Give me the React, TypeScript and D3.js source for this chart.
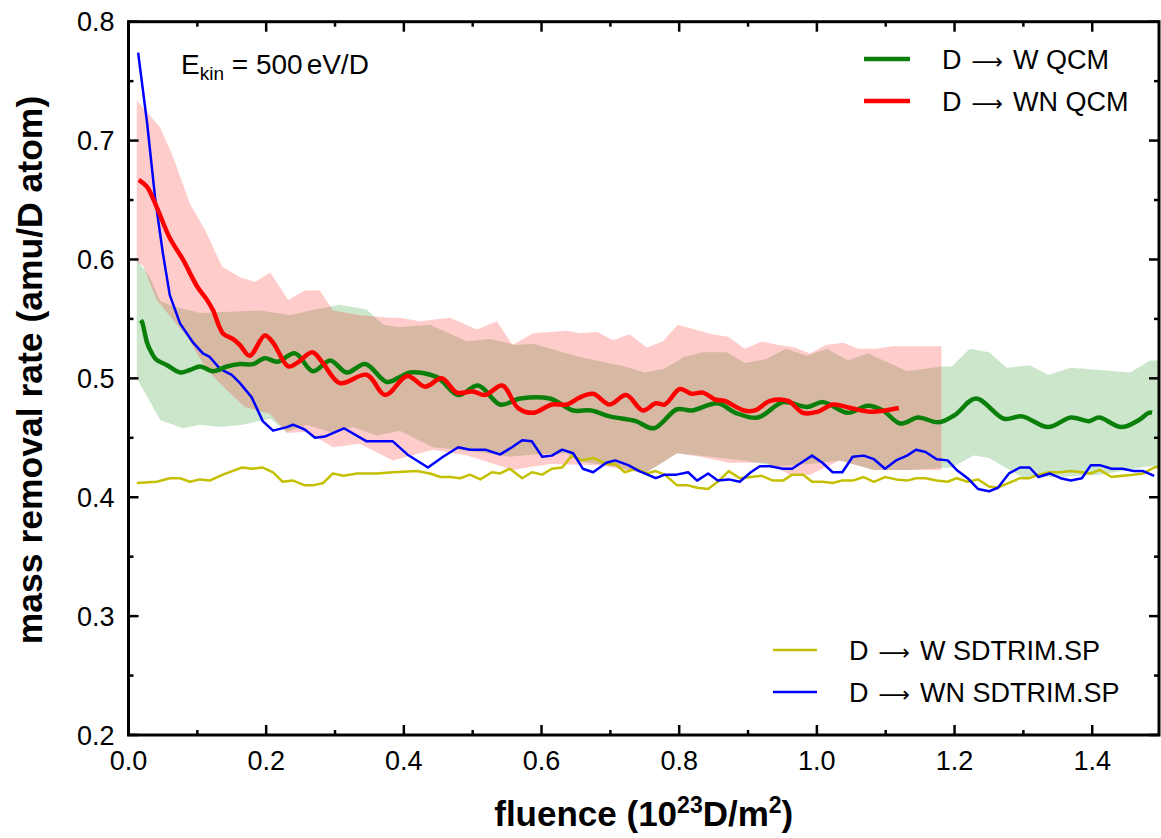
import React from "react";
import * as d3 from "d3";

// ---------- data (fluence in 1e23 D/m^2, mass removal rate in amu/D atom) ----------
const xTicksMajor = [0, 0.2, 0.4, 0.6, 0.8, 1.0, 1.2, 1.4];
const xTicksMinor = [0.1, 0.3, 0.5, 0.7, 0.9, 1.1, 1.3];
const yTicksMajor = [0.2, 0.3, 0.4, 0.5, 0.6, 0.7, 0.8];
const yTicksMinor = [0.25, 0.35, 0.45, 0.55, 0.65, 0.75];

const wQcm: [number, number][] = [
  [0.018, 0.549], [0.020, 0.547], [0.027, 0.530], [0.034, 0.521], [0.040, 0.516], [0.056, 0.511],
  [0.075, 0.505], [0.089, 0.507], [0.104, 0.510], [0.123, 0.506], [0.143, 0.510], [0.162, 0.512],
  [0.181, 0.512], [0.198, 0.517], [0.216, 0.514], [0.242, 0.521], [0.268, 0.506], [0.293, 0.515],
  [0.317, 0.505], [0.344, 0.512], [0.375, 0.497], [0.394, 0.501], [0.409, 0.505], [0.448, 0.501],
  [0.479, 0.486], [0.508, 0.494], [0.540, 0.478], [0.569, 0.483], [0.612, 0.483], [0.646, 0.473],
  [0.672, 0.473], [0.699, 0.468], [0.737, 0.464], [0.763, 0.458], [0.797, 0.474], [0.818, 0.473],
  [0.856, 0.479], [0.882, 0.471], [0.914, 0.467], [0.951, 0.480], [0.986, 0.476], [1.009, 0.480],
  [1.045, 0.471], [1.074, 0.477], [1.096, 0.473], [1.121, 0.462], [1.147, 0.467], [1.177, 0.463],
  [1.200, 0.469], [1.231, 0.483], [1.272, 0.466], [1.298, 0.468], [1.336, 0.459], [1.369, 0.467],
  [1.395, 0.464], [1.410, 0.467], [1.442, 0.459], [1.468, 0.465], [1.482, 0.471], [1.487, 0.471],
];

const wnQcm: [number, number][] = [
  [0.015, 0.667], [0.027, 0.661], [0.041, 0.644], [0.060, 0.618], [0.079, 0.600], [0.100, 0.577],
  [0.114, 0.566], [0.123, 0.557], [0.137, 0.538], [0.152, 0.533], [0.162, 0.528], [0.176, 0.519],
  [0.198, 0.536], [0.210, 0.530], [0.232, 0.510], [0.245, 0.513], [0.267, 0.522], [0.281, 0.514],
  [0.307, 0.496], [0.346, 0.503], [0.373, 0.486], [0.405, 0.502], [0.431, 0.493], [0.455, 0.500],
  [0.477, 0.488], [0.500, 0.489], [0.518, 0.486], [0.543, 0.494], [0.566, 0.475], [0.588, 0.471],
  [0.615, 0.478], [0.637, 0.478], [0.656, 0.484], [0.675, 0.487], [0.699, 0.478], [0.723, 0.486],
  [0.747, 0.473], [0.766, 0.479], [0.779, 0.478], [0.801, 0.491], [0.818, 0.487], [0.834, 0.488],
  [0.853, 0.482], [0.866, 0.481], [0.894, 0.473], [0.910, 0.473], [0.932, 0.481], [0.958, 0.481],
  [0.980, 0.471], [1.002, 0.472], [1.023, 0.478], [1.049, 0.475], [1.077, 0.472], [1.099, 0.473],
  [1.119, 0.475],
];

const wnSdtrim: [number, number][] = [
  [0.014, 0.774], [0.027, 0.715], [0.039, 0.650], [0.050, 0.605], [0.060, 0.570], [0.075, 0.546],
  [0.094, 0.530], [0.108, 0.521], [0.118, 0.518], [0.133, 0.508], [0.150, 0.503], [0.162, 0.496],
  [0.179, 0.484], [0.195, 0.464], [0.210, 0.456], [0.230, 0.459], [0.239, 0.461], [0.256, 0.457],
  [0.271, 0.450], [0.285, 0.451], [0.313, 0.458], [0.346, 0.447], [0.384, 0.447], [0.405, 0.436],
  [0.435, 0.425], [0.457, 0.434], [0.479, 0.442], [0.496, 0.440], [0.518, 0.440], [0.540, 0.436],
  [0.557, 0.442], [0.572, 0.448], [0.586, 0.447], [0.601, 0.434], [0.615, 0.435], [0.630, 0.440],
  [0.646, 0.437], [0.660, 0.424], [0.675, 0.421], [0.694, 0.429], [0.707, 0.431], [0.726, 0.427],
  [0.742, 0.422], [0.766, 0.416], [0.779, 0.419], [0.796, 0.419], [0.813, 0.421], [0.826, 0.414],
  [0.842, 0.420], [0.856, 0.414], [0.872, 0.415], [0.888, 0.413], [0.904, 0.421], [0.917, 0.426],
  [0.932, 0.426], [0.951, 0.424], [0.964, 0.424], [0.980, 0.430], [0.993, 0.435], [1.008, 0.429],
  [1.023, 0.421], [1.037, 0.421], [1.052, 0.434], [1.068, 0.435], [1.083, 0.432], [1.099, 0.424],
  [1.115, 0.431], [1.131, 0.435], [1.144, 0.440], [1.158, 0.438], [1.174, 0.432], [1.190, 0.431],
  [1.203, 0.423], [1.219, 0.416], [1.234, 0.407], [1.250, 0.405], [1.263, 0.408], [1.279, 0.420],
  [1.295, 0.425], [1.309, 0.425], [1.322, 0.417], [1.338, 0.420], [1.354, 0.416], [1.369, 0.414],
  [1.385, 0.416], [1.398, 0.427], [1.411, 0.427], [1.428, 0.424], [1.444, 0.424], [1.460, 0.422],
  [1.474, 0.422], [1.490, 0.418],
];

const wSdtrim: [number, number][] = [
  [0.012, 0.412], [0.041, 0.413], [0.060, 0.416], [0.075, 0.416], [0.089, 0.413], [0.104, 0.415],
  [0.118, 0.414], [0.137, 0.419], [0.165, 0.425], [0.179, 0.424], [0.195, 0.425], [0.210, 0.421],
  [0.224, 0.413], [0.239, 0.414], [0.256, 0.410], [0.268, 0.410], [0.283, 0.412], [0.297, 0.420],
  [0.312, 0.418], [0.332, 0.420], [0.361, 0.420], [0.384, 0.421], [0.419, 0.422], [0.438, 0.420],
  [0.453, 0.417], [0.467, 0.417], [0.482, 0.416], [0.496, 0.419], [0.511, 0.415], [0.528, 0.421],
  [0.540, 0.420], [0.554, 0.424], [0.572, 0.416], [0.586, 0.421], [0.601, 0.419], [0.615, 0.424],
  [0.630, 0.425], [0.644, 0.435], [0.659, 0.431], [0.675, 0.433], [0.694, 0.428], [0.707, 0.428],
  [0.721, 0.421], [0.737, 0.424], [0.753, 0.420], [0.766, 0.422], [0.779, 0.419], [0.797, 0.410],
  [0.813, 0.410], [0.826, 0.408], [0.842, 0.407], [0.856, 0.413], [0.872, 0.422], [0.888, 0.416],
  [0.904, 0.417], [0.920, 0.418], [0.936, 0.414], [0.951, 0.414], [0.964, 0.419], [0.980, 0.419],
  [0.993, 0.413], [1.008, 0.413], [1.023, 0.412], [1.036, 0.414], [1.052, 0.414], [1.068, 0.417],
  [1.083, 0.413], [1.099, 0.417], [1.115, 0.415], [1.131, 0.414], [1.144, 0.416], [1.158, 0.416],
  [1.174, 0.414], [1.190, 0.413], [1.203, 0.416], [1.219, 0.413], [1.234, 0.415], [1.250, 0.409],
  [1.263, 0.408], [1.279, 0.412], [1.295, 0.416], [1.309, 0.416], [1.322, 0.419], [1.338, 0.421],
  [1.354, 0.421], [1.369, 0.422], [1.385, 0.421], [1.398, 0.420], [1.411, 0.423], [1.428, 0.417],
  [1.444, 0.418], [1.460, 0.419], [1.474, 0.420], [1.490, 0.425], [1.497, 0.426],
];

// uncertainty band edges
const wBandUpper: [number, number][] = [
  [0.012, 0.600], [0.031, 0.585], [0.046, 0.565], [0.068, 0.560], [0.104, 0.555], [0.147, 0.556],
  [0.191, 0.557], [0.235, 0.553], [0.264, 0.557], [0.307, 0.562], [0.346, 0.558], [0.370, 0.545],
  [0.394, 0.543], [0.438, 0.545], [0.492, 0.531], [0.525, 0.533], [0.564, 0.528], [0.588, 0.529],
  [0.637, 0.521], [0.656, 0.518], [0.688, 0.514], [0.721, 0.510], [0.750, 0.505], [0.778, 0.508],
  [0.807, 0.518], [0.834, 0.522], [0.869, 0.522], [0.895, 0.513], [0.926, 0.516], [0.955, 0.525],
  [0.985, 0.519], [1.015, 0.525], [1.045, 0.515], [1.074, 0.521], [1.105, 0.513], [1.131, 0.506],
  [1.181, 0.510], [1.196, 0.510], [1.222, 0.525], [1.250, 0.522], [1.276, 0.509], [1.309, 0.511],
  [1.336, 0.503], [1.369, 0.509], [1.411, 0.507], [1.455, 0.505], [1.484, 0.515], [1.497, 0.515],
];
const wBandLower: [number, number][] = [
  [0.012, 0.500], [0.046, 0.465], [0.079, 0.458], [0.104, 0.461], [0.133, 0.459], [0.166, 0.461],
  [0.206, 0.466], [0.230, 0.455], [0.259, 0.461], [0.297, 0.454], [0.326, 0.459], [0.361, 0.452],
  [0.394, 0.456], [0.442, 0.442], [0.481, 0.440], [0.521, 0.437], [0.554, 0.434], [0.588, 0.436],
  [0.637, 0.437], [0.656, 0.430], [0.704, 0.426], [0.750, 0.420], [0.797, 0.437], [0.845, 0.434],
  [0.894, 0.431], [0.942, 0.426], [0.990, 0.428], [1.033, 0.431], [1.083, 0.423], [1.131, 0.423],
  [1.196, 0.425], [1.228, 0.435], [1.250, 0.433], [1.298, 0.417], [1.353, 0.417], [1.411, 0.419],
  [1.482, 0.426], [1.497, 0.426],
];
const wnBandUpper: [number, number][] = [
  [0.012, 0.734], [0.046, 0.711], [0.065, 0.686], [0.089, 0.647], [0.111, 0.625], [0.136, 0.594],
  [0.162, 0.585], [0.184, 0.581], [0.206, 0.589], [0.232, 0.566], [0.256, 0.574], [0.278, 0.574],
  [0.297, 0.557], [0.336, 0.553], [0.380, 0.551], [0.394, 0.551], [0.423, 0.548], [0.467, 0.551],
  [0.506, 0.541], [0.535, 0.548], [0.558, 0.528], [0.588, 0.538], [0.637, 0.540], [0.656, 0.538],
  [0.681, 0.539], [0.704, 0.532], [0.728, 0.537], [0.753, 0.526], [0.776, 0.531], [0.798, 0.545],
  [0.823, 0.541], [0.848, 0.537], [0.871, 0.535], [0.895, 0.525], [0.920, 0.531], [0.944, 0.528],
  [0.968, 0.526], [0.990, 0.521], [1.013, 0.528], [1.038, 0.530], [1.060, 0.525], [1.086, 0.525],
  [1.110, 0.527], [1.181, 0.527],
];
const wnBandLower: [number, number][] = [
  [0.012, 0.598], [0.021, 0.595], [0.041, 0.566], [0.085, 0.535], [0.114, 0.507], [0.143, 0.490],
  [0.169, 0.476], [0.206, 0.470], [0.230, 0.454], [0.259, 0.455], [0.297, 0.442], [0.336, 0.445],
  [0.384, 0.431], [0.442, 0.440], [0.492, 0.435], [0.558, 0.423], [0.612, 0.428], [0.685, 0.427],
  [0.750, 0.420], [0.797, 0.437], [0.830, 0.434], [0.872, 0.429], [0.926, 0.429], [0.961, 0.419],
  [0.990, 0.419], [1.033, 0.431], [1.083, 0.423], [1.131, 0.423], [1.181, 0.423],
];

const legendTop = [
  { target: "W QCM", color: "#0a800a", width: 4.5 },
  { target: "WN QCM", color: "#ff0000", width: 4.5 },
];
const legendBottom = [
  { target: "W SDTRIM.SP", color: "#c4c000", width: 2.5 },
  { target: "WN SDTRIM.SP", color: "#0000ff", width: 2.5 },
];

// ---------- layout ----------
const W = 1161;
const H = 838;
const PL = 128.5, PR = 1159, PT = 21.7, PB = 735;
const FONT = "'Liberation Sans', Arial, Helvetica, sans-serif";

function LegendLabel({ x, y, target }: { x: number; y: number; target: string }) {
  return (
    <text x={x} y={y} fontSize={27}>
      D
      <tspan dx={10} fontFamily="'DejaVu Sans', sans-serif" fontSize={22}>{"\u27F6"}</tspan>
      <tspan dx={10}>{target}</tspan>
    </text>
  );
}

export default function App() {
  const x = d3.scaleLinear().domain([0, 1.497]).range([PL, PR]);
  const y = d3.scaleLinear().domain([0.2, 0.8]).range([PB, PT]);

  const lin = d3.line<[number, number]>().x((d) => x(d[0])).y((d) => y(d[1]));
  const smooth = d3
    .line<[number, number]>()
    .x((d) => x(d[0]))
    .y((d) => y(d[1]))
    .curve(d3.curveCatmullRom.alpha(0.5));

  const band = (up: [number, number][], lo: [number, number][]) =>
    lin([...up, ...lo.slice().reverse()]) + "Z";

  const tickLen = 10, minorLen = 5;

  return (
    <svg
      width={W}
      height={H}
      style={{ position: "absolute", left: 0, top: 0, background: "#fff" }}
      fontFamily={FONT}
    >
      <defs>
        <clipPath id="plot">
          <rect x={PL} y={PT} width={PR - PL} height={PB - PT} />
        </clipPath>
      </defs>
      <rect x={0} y={0} width={W} height={H} fill="#fff" />

      <g clipPath="url(#plot)">
        <path d={band(wBandUpper, wBandLower)} fill="rgb(0,128,0)" fillOpacity={0.2} />
        <path d={band(wnBandUpper, wnBandLower)} fill="rgb(255,0,0)" fillOpacity={0.2} />
        <path d={lin(wSdtrim) || ""} fill="none" stroke="#c4c000" strokeWidth={2.5} strokeLinejoin="round" />
        <path d={lin(wnSdtrim) || ""} fill="none" stroke="#0000ff" strokeWidth={2.5} strokeLinejoin="round" />
        <path d={smooth(wQcm) || ""} fill="none" stroke="#0a800a" strokeWidth={4.5} strokeLinejoin="round" />
        <path d={smooth(wnQcm) || ""} fill="none" stroke="#ff0000" strokeWidth={4.5} strokeLinejoin="round" />
      </g>

      {/* ticks */}
      <g stroke="#000" strokeWidth={2.5}>
        {xTicksMajor.map((t) => (
          <g key={"xm" + t}>
            <line x1={x(t)} x2={x(t)} y1={PB} y2={PB - tickLen} />
            <line x1={x(t)} x2={x(t)} y1={PT} y2={PT + tickLen} />
          </g>
        ))}
        {xTicksMinor.map((t) => (
          <g key={"xn" + t}>
            <line x1={x(t)} x2={x(t)} y1={PB} y2={PB - minorLen} />
            <line x1={x(t)} x2={x(t)} y1={PT} y2={PT + minorLen} />
          </g>
        ))}
        {yTicksMajor.map((t) => (
          <g key={"ym" + t}>
            <line x1={PL} x2={PL + tickLen} y1={y(t)} y2={y(t)} />
            <line x1={PR} x2={PR - tickLen} y1={y(t)} y2={y(t)} />
          </g>
        ))}
        {yTicksMinor.map((t) => (
          <g key={"yn" + t}>
            <line x1={PL} x2={PL + minorLen} y1={y(t)} y2={y(t)} />
            <line x1={PR} x2={PR - minorLen} y1={y(t)} y2={y(t)} />
          </g>
        ))}
      </g>

      <rect x={PL} y={PT} width={PR - PL} height={PB - PT} fill="none" stroke="#000" strokeWidth={3} />

      {/* tick labels */}
      <g fontSize={27} fill="#000">
        {xTicksMajor.map((t) => (
          <text key={"xl" + t} x={x(t)} y={PB + 35} textAnchor="middle">
            {t.toFixed(1)}
          </text>
        ))}
        {yTicksMajor.map((t) => (
          <text key={"yl" + t} x={PL - 14} y={y(t) + 9.5} textAnchor="end">
            {t.toFixed(1)}
          </text>
        ))}
      </g>

      {/* axis titles */}
      <text x={(PL + PR) / 2} y={826} textAnchor="middle" fontSize={35} fontWeight="bold">
        fluence (10
        <tspan fontSize={23} dy={-13}>23</tspan>
        <tspan dy={13}>D/m</tspan>
        <tspan fontSize={23} dy={-13}>2</tspan>
        <tspan dy={13}>)</tspan>
      </text>
      <text
        transform={`translate(42, 370) rotate(-90)`}
        textAnchor="middle"
        fontSize={35.5}
        fontWeight="bold"
      >
        mass removal rate (amu/D atom)
      </text>

      {/* annotation */}
      <text x={181} y={74} fontSize={28}>
        E<tspan fontSize={19} dy={6}>kin</tspan>
        <tspan dy={-6}> = 500</tspan>
        <tspan dx={4}>eV/D</tspan>
      </text>

      {/* legends */}
      {legendTop.map((l, i) => (
        <g key={l.target}>
          <line x1={864} x2={910} y1={59 + i * 42} y2={59 + i * 42} stroke={l.color} strokeWidth={l.width} />
          <LegendLabel x={942} y={59 + i * 42 + 10} target={l.target} />
        </g>
      ))}
      {legendBottom.map((l, i) => (
        <g key={l.target}>
          <line x1={773} x2={817} y1={650 + i * 42} y2={650 + i * 42} stroke={l.color} strokeWidth={l.width} />
          <LegendLabel x={849} y={650 + i * 42 + 10} target={l.target} />
        </g>
      ))}
    </svg>
  );
}
